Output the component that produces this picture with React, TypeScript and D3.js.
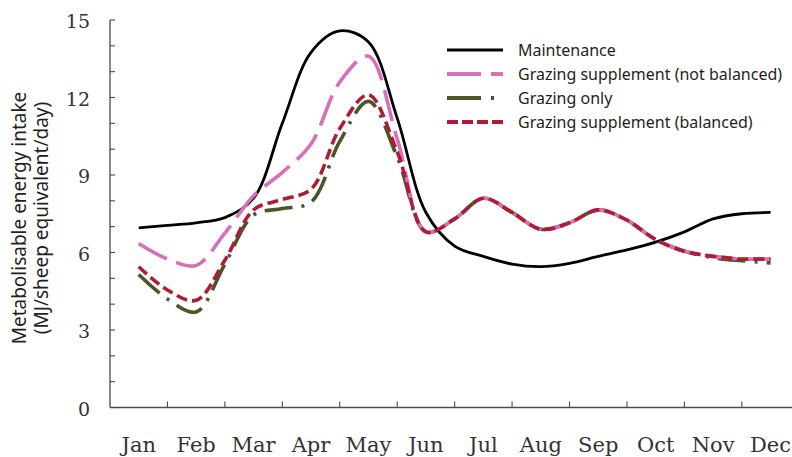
import React from "react";
import * as d3 from "d3";

const months = ["Jan", "Feb", "Mar", "Apr", "May", "Jun", "Jul", "Aug", "Sep", "Oct", "Nov", "Dec"];
const yTicks = [0, 3, 6, 9, 12, 15];
const yMinor = d3.range(0, 16);
// time in months (0 = mid-January), read every half month
const time = [0, 0.5, 1, 1.5, 2, 2.5, 3, 3.5, 4, 4.5, 5, 5.5, 6, 6.5, 7, 7.5, 8, 8.5, 9, 9.5, 10, 10.5, 11];
const maintenance = [6.95, 7.05, 7.15, 7.35, 8.1, 11.0, 13.75, 14.58, 14.15, 11.2, 7.55, 6.25, 5.85, 5.55, 5.45, 5.58, 5.85, 6.1, 6.4, 6.8, 7.3, 7.5, 7.55];
const notBalanced = [6.35, 5.75, 5.5, 6.75, 8.2, 9.1, 10.2, 12.6, 13.6, 10.4, 6.8, 7.3, 8.1, 7.55, 6.9, 7.15, 7.65, 7.25, 6.5, 6.05, 5.85, 5.75, 5.75];
const grazingOnly = [5.15, 4.2, 3.7, 5.55, 7.45, 7.7, 7.95, 10.3, 11.85, 9.7, 6.8, 7.3, 8.1, 7.55, 6.9, 7.15, 7.65, 7.25, 6.5, 6.05, 5.8, 5.68, 5.6];
const balanced = [5.45, 4.55, 4.15, 5.7, 7.65, 8.05, 8.45, 10.8, 12.1, 9.9, 6.8, 7.3, 8.1, 7.55, 6.9, 7.15, 7.65, 7.25, 6.5, 6.05, 5.85, 5.75, 5.75];

const seriesNames = [
  "Maintenance",
  "Grazing supplement (not balanced)",
  "Grazing only",
  "Grazing supplement (balanced)",
];

const W = 792;
const H = 457;
const X0 = 110;
const BAND = 57.44;
const Y0 = 407.5;
const YTOP = 20;

const styles = [
  { color: "#000000", width: 2.8, dash: "", legendDash: "" },
  { color: "#d670b8", width: 3.6, dash: "32,10", legendDash: "34,10" },
  { color: "#4b5528", width: 3.6, dash: "28,9,3,9", legendDash: "34,10,3,20" },
  { color: "#b01c33", width: 3.6, dash: "11,5", legendDash: "11,4" },
];

const serif = "'DejaVu Serif', 'Liberation Serif', serif";
const sans = "'Noto Sans', 'Open Sans', sans-serif";

export default function App() {
  const x = d3.scaleLinear().domain([-0.5, 11.5]).range([X0, X0 + BAND * 12]);
  const y = d3.scaleLinear().domain([0, 15]).range([Y0, YTOP]);
  const line = d3
    .line<[number, number]>()
    .x((d) => x(d[0]))
    .y((d) => y(d[1]))
    .curve(d3.curveCatmullRom.alpha(0.5));
  const data = [maintenance, notBalanced, grazingOnly, balanced];
  const drawOrder = [0, 2, 1, 3];
  const axisColor = "#4a4a4a";

  return (
    <svg width={W} height={H} style={{ position: "absolute", left: 0, top: 0, background: "#fff" }}>
      <rect x={0} y={0} width={W} height={H} fill="#fff" />
      {/* y axis */}
      <line x1={X0} x2={X0} y1={YTOP} y2={Y0} stroke={axisColor} strokeWidth={1.3} />
      {yMinor.map((v) => (
        <line key={v} x1={X0} x2={X0 + 5} y1={y(v)} y2={y(v)} stroke={axisColor} strokeWidth={1.1} />
      ))}
      {yTicks.map((v) => (
        <text key={v} x={90} y={y(v) + 8} textAnchor="end" fontFamily={serif} fontSize={19} fill="#333">
          {v}
        </text>
      ))}
      {/* x axis */}
      <line x1={X0} x2={W} y1={Y0} y2={Y0} stroke={axisColor} strokeWidth={1.3} />
      {months.map((m, i) =>
        i > 0 ? (
          <line key={m} x1={x(i - 0.5)} x2={x(i - 0.5)} y1={Y0} y2={Y0 - 6} stroke={axisColor} strokeWidth={1.1} />
        ) : null
      )}
      {months.map((m, i) => (
        <text key={m} x={x(i)} y={452} textAnchor="middle" fontFamily={serif} fontSize={21} fill="#333">
          {m}
        </text>
      ))}
      {/* axis title */}
      <g transform="translate(26,218) rotate(-90)">
        <text x={0} y={0} textAnchor="middle" fontFamily={sans} fontSize={19} fill="#231f20">
          Metabolisable energy intake
        </text>
        <text x={0} y={21.5} textAnchor="middle" fontFamily={sans} fontSize={19} fill="#231f20">
          (MJ/sheep equivalent/day)
        </text>
      </g>
      {/* series */}
      {drawOrder.map((si) => (
        <path
          key={si}
          d={line(time.map((t, k) => [t, data[si][k]] as [number, number])) || ""}
          fill="none"
          stroke={styles[si].color}
          strokeWidth={styles[si].width}
          strokeDasharray={styles[si].dash || undefined}
        />
      ))}
      {/* legend */}
      {seriesNames.map((name, i) => (
        <g key={name} transform={`translate(0,${50 + i * 24})`}>
          <line
            x1={447}
            x2={503}
            y1={0}
            y2={0}
            stroke={styles[i].color}
            strokeWidth={i === 0 ? 3.2 : 3.8}
            strokeDasharray={styles[i].legendDash || undefined}
          />
          <text x={518} y={5.5} fontFamily={sans} fontSize={16} fill="#231f20">
            {name}
          </text>
        </g>
      ))}
    </svg>
  );
}
